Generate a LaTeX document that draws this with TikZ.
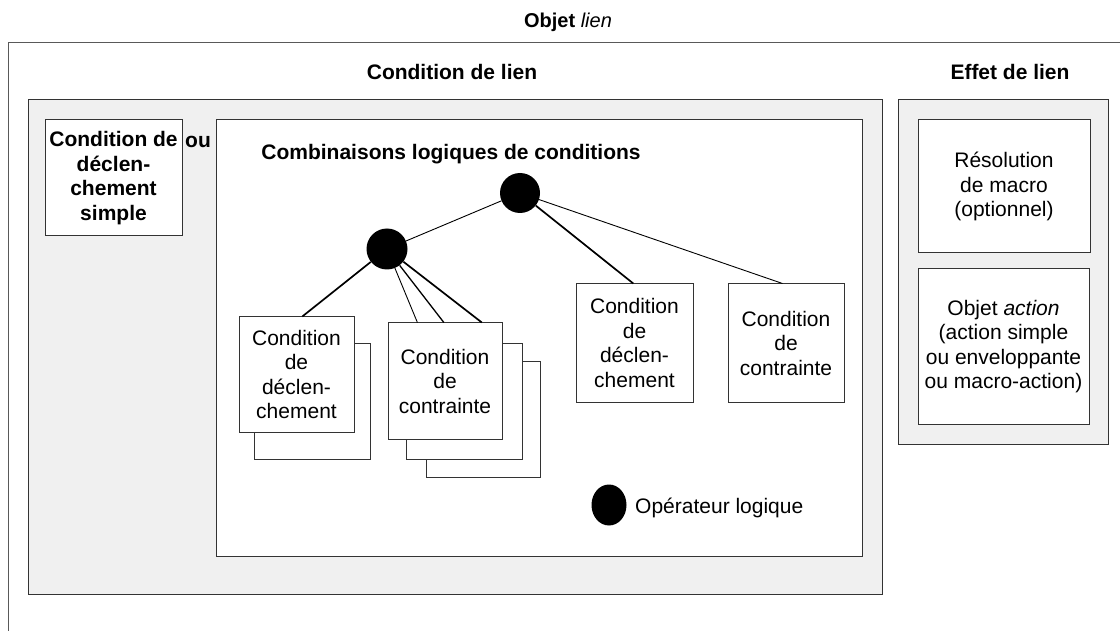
\documentclass[tikz,border=0pt]{standalone}
\usepackage{fontspec}
\setmainfont{Liberation Sans}
\usetikzlibrary{shapes.geometric,calc}

\begin{document}
\begin{tikzpicture}[x=1pt,y=-1pt,
  txt/.style={font=\fontsize{21}{24.5}\selectfont, align=center},
  ttl/.style={font=\fontsize{21}{24.5}\selectfont\bfseries, anchor=base, inner sep=0pt},
  frame/.style={rectangle, draw=black!80, line width=1pt, inner sep=0pt},
  panel/.style={frame, fill=black!6},
  card/.style={frame, fill=white, txt},
  op/.style={circle, fill=black, inner sep=0pt, minimum size=#1},
  thin link/.style={draw=black, line width=0.9pt},
  mid link/.style={draw=black, line width=1.3pt},
  thick link/.style={draw=black, line width=1.7pt}
]
\useasboundingbox (0,0) rectangle (1120,631);

% outer frame of the link object (open to the right and bottom)
\draw[draw=black!65, line width=1pt] (1121,43) -- (8,43) -- (8,632);
\node[ttl, font=\fontsize{20}{24}\selectfont] (objlien) at (568,28) {\textbf{Objet} \textit{lien}};

% condition panel
\node[ttl] (tcond) at (452,80) {Condition de lien};
\node[panel, minimum width=854, minimum height=494] (cond) at (455,347) {};
\node[card, font=\fontsize{21}{24.5}\selectfont\bfseries, minimum width=137, minimum height=116] (simple) at (113.5,178) {Condition de\\déclen-\\chement\\simple};
\node[ttl] (ou) at (198,148) {ou};
\node[frame, fill=white, minimum width=646, minimum height=436] (comb) at (539,338) {};
\node[ttl] (tcomb) at (451,160) {Combinaisons logiques de conditions};

% effect panel
\node[ttl] (teff) at (1010,80) {Effet de lien};
\node[panel, minimum width=210, minimum height=344] (eff) at (1003,272) {};
\node[card, minimum width=172, minimum height=133] (res) at (1004,186.5) {Résolution\\de macro\\(optionnel)};
\node[card, minimum width=171, minimum height=155] (act) at (1003.5,346.5) {Objet \textit{action}\\(action simple\\ou enveloppante\\ou macro-action)};

% stacked condition cards
\node[card, minimum width=116, minimum height=116] (shA) at (312,401) {};
\node[card, minimum width=115, minimum height=115] (boxA) at (296.5,374.5) {Condition\\de\\déclen-\\chement};
\node[card, minimum width=114, minimum height=116] (shB2) at (483,419) {};
\node[card, minimum width=116, minimum height=116] (shB1) at (464,401) {};
\node[card, minimum width=114, minimum height=116] (boxB) at (445,381) {Condition\\de\\contrainte};
\node[card, minimum width=117, minimum height=118] (boxC) at (634.5,343) {Condition\\de\\déclen-\\chement};
\node[card, minimum width=116, minimum height=118] (boxD) at (786,343) {Condition\\de\\contrainte};

% logical operators
\node[op=40] (op1) at (520,193) {};
\node[op=41] (op2) at (387,249) {};

% tree links
\draw[thin link] (op1) -- (op2);
\draw[thick link] (op1) -- ($(boxC.north west)!0.49!(boxC.north east)$);
\draw[thin link] (op1) -- ($(boxD.north west)!0.47!(boxD.north east)$);
\draw[thick link] (op2) -- ($(boxA.north west)!0.55!(boxA.north east)$);
\draw[thin link] (op2) -- ($(boxB.north west)!0.26!(boxB.north east)$);
\draw[mid link] (op2) -- ($(boxB.north west)!0.49!(boxB.north east)$);
\draw[thick link] (op2) -- ($(boxB.north west)!0.82!(boxB.north east)$);

% legend
\node[ellipse, fill=black, inner sep=0pt, minimum width=35, minimum height=41] (legop) at (609,505) {};
\node[txt, anchor=base west, inner sep=0pt] (legtxt) at (635,513) {Opérateur logique};
\end{tikzpicture}
\end{document}
